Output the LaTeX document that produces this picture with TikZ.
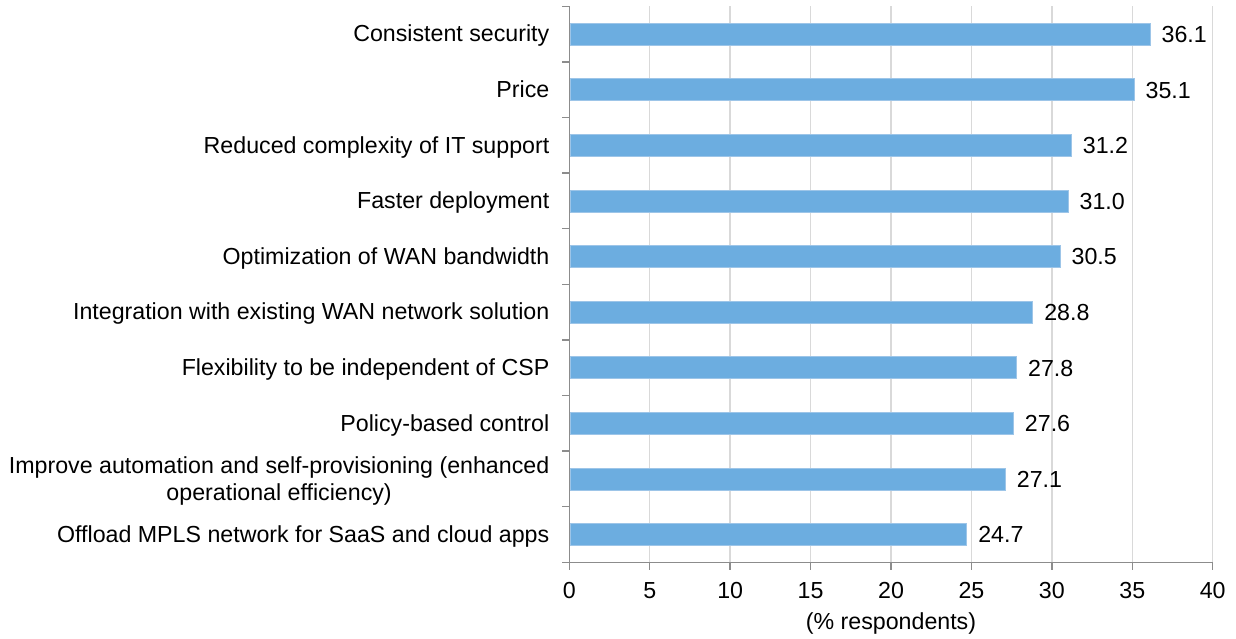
\documentclass[tikz,border=0pt]{standalone}
\usepackage{fontspec}
\setmainfont{Liberation Sans}
\definecolor{barfill}{RGB}{108,173,224}
\definecolor{baredge}{RGB}{157,197,232}
\definecolor{gridc}{RGB}{217,217,217}
\definecolor{axisc}{RGB}{140,140,140}
\begin{document}
\begin{tikzpicture}[x=1pt,y=-1pt,
  lbl/.style={anchor=base east,inner sep=0pt,font=\fontsize{23.2}{27}\selectfont},
  lbltwo/.style={anchor=east,inner sep=0pt,align=center,font=\fontsize{23.2}{27}\selectfont},
  val/.style={anchor=base west,inner sep=0pt,font=\fontsize{23.2}{27}\selectfont},
  tick/.style={inner sep=0pt,font=\fontsize{23.2}{27}\selectfont},
  bar/.style={fill=barfill,draw=baredge,line width=0.8pt},
  gridl/.style={draw=gridc,line width=1.5pt},
  axisl/.style={draw=axisc,line width=1.5pt}]
\useasboundingbox (0,0) rectangle (1236,638);
\fill[white] (0,0) rectangle (1236,638);
% gridlines
\foreach \t in {5,10,...,40}{
  \draw[gridl] ({569.3+\t*16.085},6.3) -- ({569.3+\t*16.085},562.3);
}
% bars
\foreach \v [count=\i from 0] in {36.1,35.1,31.2,31.0,30.5,28.8,27.8,27.6,27.1,24.7}{
  \pgfmathsetmacro{\cy}{6.3+55.6*(\i+0.5)}
  \pgfmathsetmacro{\ex}{569.3+\v*16.085}
  \draw[bar] (570,\cy-11) rectangle (\ex,\cy+11);
  \node[val] (v\i) at (\ex+11.5,\cy+8.3) {\v};
}
% axes
\coordinate (o) at (569.3,562.3);
\coordinate (top) at (569.3,6.3);
\coordinate (right) at (1212.7,562.3);
\draw[axisl] (top) -- (o) -- (right);
\foreach \i in {0,...,10}{
  \draw[axisl] (562,{6.3+55.6*\i}) -- (569.3,{6.3+55.6*\i});
}
\foreach \t in {0,5,...,40}{
  \draw[axisl] ({569.3+\t*16.085},562.3) -- ({569.3+\t*16.085},569.5);
  \node[tick] (t\t) at ({569.3+\t*16.085},591) {\t};
}
\node[tick] (xt) at (891,623) {(\% respondents)};
% category labels
\foreach \s [count=\i from 0] in {Consistent security,Price,Reduced complexity of IT support,Faster deployment,Optimization of WAN bandwidth,Integration with existing WAN network solution,Flexibility to be independent of CSP,Policy-based control}{
  \node[lbl] (l\i) at (549.5,{6.3+55.6*(\i+0.5)+7.7}) {\s};
}
\node[lbltwo] (l8) at (549.5,481) {Improve automation and self-provisioning (enhanced\\operational efficiency)};
\node[lbl] (l9) at (549.5,542.2) {Offload MPLS network for SaaS and cloud apps};
\end{tikzpicture}
\end{document}
